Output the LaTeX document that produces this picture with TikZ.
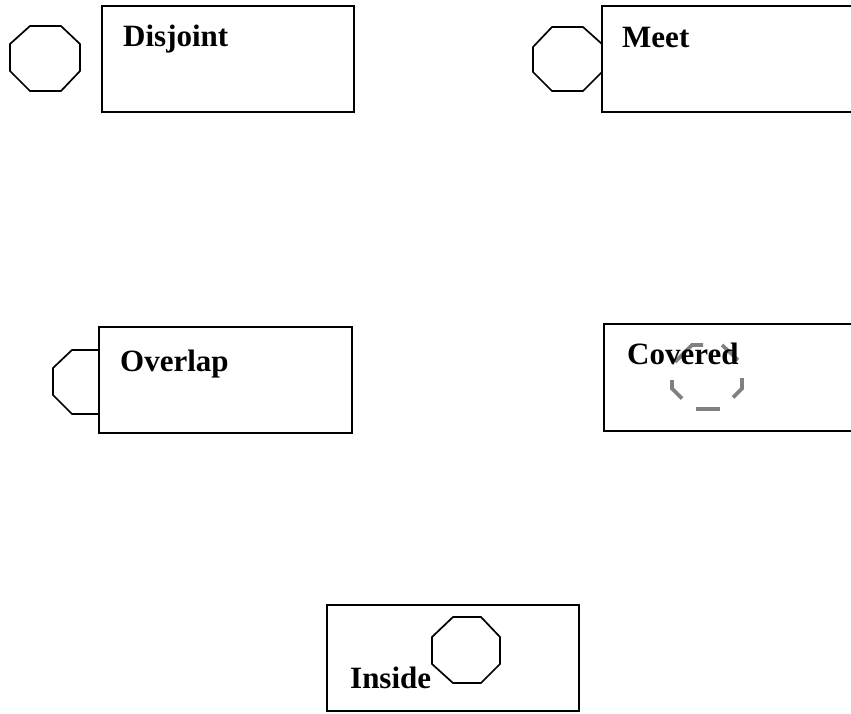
\documentclass[tikz,border=0pt]{standalone}
\usepackage{fontspec}
\setmainfont{Liberation Serif}
\begin{document}
\begin{tikzpicture}[x=1pt,y=-1pt,
  relbox/.style={draw=black, line width=1.9pt, rectangle, inner sep=0pt},
  relname/.style={anchor=base west, inner sep=0pt, font=\fontsize{31}{36}\selectfont\bfseries},
  region/.style={draw=black, line width=1.7pt, line join=miter},
  hidden/.style={draw=black!50, line width=3.6pt, line cap=butt, line join=miter}]
\useasboundingbox (0,0) rectangle (851,713);
\clip (0,0) rectangle (851,713);
\fill[white] (0,0) rectangle (851,713);

% Disjoint: region apart from the box
\draw[region] (30,26) -- (61,26) -- (80,44) -- (80,71) -- (61,91) -- (30,91) -- (10,71) -- (10,44) -- cycle;
\node[relbox, minimum width=252pt, minimum height=106pt] (disjointbox) at (228,59) {};
\node[relname] (disjointlbl) at (123,46) {Disjoint};

% Meet: region touching the box boundary
\draw[region] (552,27) -- (583,27) -- (602,44) -- (602,72) -- (583,91) -- (552,91) -- (533,72) -- (533,47) -- cycle;
\node[relbox, minimum width=300pt, minimum height=106pt] (meetbox) at (752,59) {};
\node[relname] (meetlbl) at (622,47) {Meet};

% Overlap: region partly inside the box
\draw[region] (99,350) -- (72,350) -- (53,368) -- (53,395) -- (72,414) -- (99,414);
\node[relbox, minimum width=253pt, minimum height=106pt] (overlapbox) at (225.5,380) {};
\node[relname] (overlaplbl) at (120,371) {Overlap};

% Covered: hidden region shown as a broken grey outline
\draw[hidden] (675,362) -- (692,345) -- (703,345);
\draw[hidden] (722,345) -- (738,360);
\draw[hidden] (742,378) -- (742,388.5) -- (733,397.5);
\draw[hidden] (696,409) -- (720,409);
\draw[hidden] (682,398.5) -- (672,388.5) -- (672,380);
\node[relbox, line width=2.6pt, minimum width=300pt, minimum height=107pt] (coveredbox) at (754,377.5) {};
\node[relname] (coveredlbl) at (627,364) {Covered};

% Inside: region fully within the box
\node[relbox, minimum width=252pt, minimum height=106pt] (insidebox) at (453,658) {};
\draw[region] (453,617) -- (481,617) -- (500,637) -- (500,664) -- (481,683) -- (453,683) -- (432,664) -- (432,637) -- cycle;
\node[relname] (insidelbl) at (350,688) {Inside};
\end{tikzpicture}
\end{document}
